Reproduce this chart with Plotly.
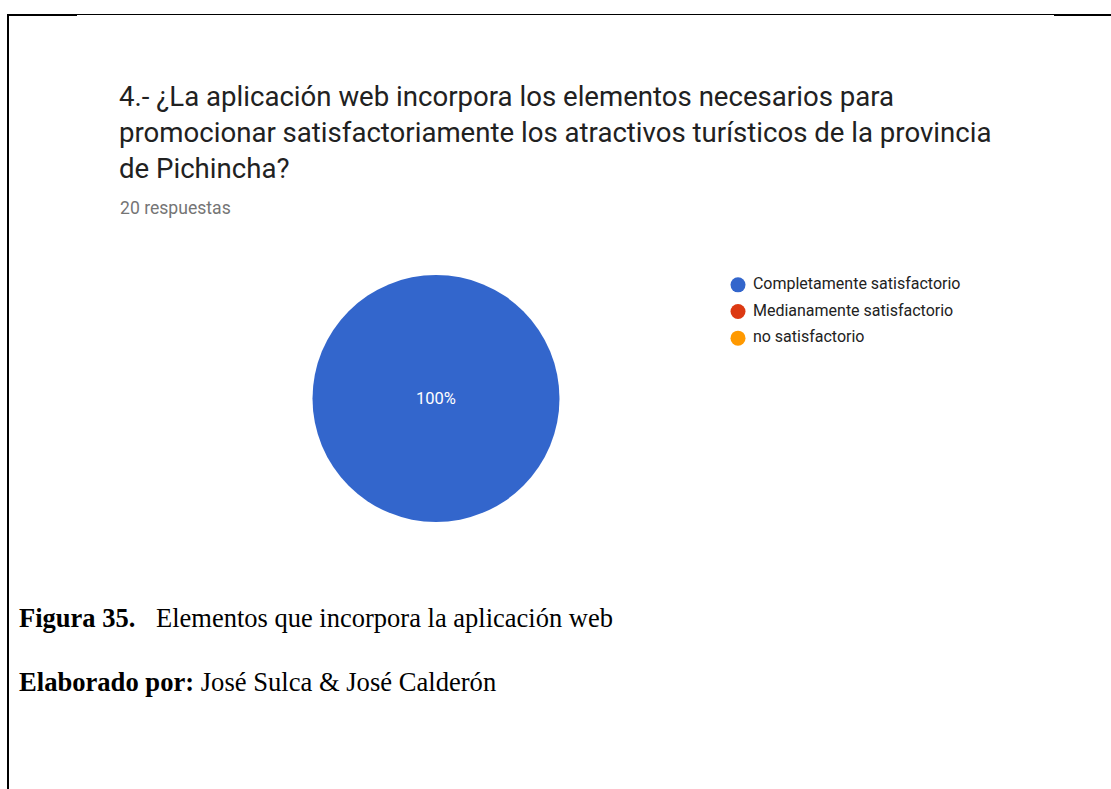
import plotly.graph_objects as go

W, H = 1111, 789

# Survey answers for question 4
categories = ["Completamente satisfactorio", "Medianamente satisfactorio", "no satisfactorio"]
responses = [20, 0, 0]
colors = ["#3366cc", "#dc3912", "#ff9900"]

title_lines = [
    "4.- ¿La aplicación web incorpora los elementos necesarios para",
    "promocionar satisfactoriamente los atractivos turísticos de la provincia",
    "de Pichincha?",
]
subtitle = f"{sum(responses)} respuestas"
caption_bold = "Figura 35."
caption_text = "Elementos que incorpora la aplicación web"
credit_bold = "Elaborado por:"
credit_text = "José Sulca & José Calderón"


def px_x(v):
    return v / W


def px_y(v):
    return 1 - v / H


fig = go.Figure()

total = sum(responses)
pie_text = [f"{round(100 * r / total)}%" if r else "" for r in responses]

fig.add_trace(go.Pie(
    labels=categories,
    values=responses,
    marker=dict(colors=colors, line=dict(width=0)),
    text=pie_text,
    textinfo="text",
    textposition="inside",
    insidetextfont=dict(family="Roboto", size=16.5, color="white"),
    sort=False,
    direction="clockwise",
    showlegend=False,
    domain=dict(x=[px_x(312), px_x(560)], y=[px_y(522), px_y(275)]),
    hoverinfo="label+percent",
))

# Legend drawn as circle markers plus labels on their own axes
legend_rows = list(range(len(categories)))
fig.add_trace(go.Scatter(
    x=[0] * len(categories),
    y=legend_rows,
    mode="markers",
    marker=dict(symbol="circle", size=15, color=colors),
    showlegend=False,
    hoverinfo="skip",
    cliponaxis=False,
    xaxis="x2",
    yaxis="y2",
))
fig.add_trace(go.Scatter(
    x=[0.057] * len(categories),
    y=legend_rows,
    mode="text",
    text=categories,
    textposition="middle right",
    textfont=dict(family="Roboto", size=16, color="#222222"),
    cliponaxis=False,
    showlegend=False,
    hoverinfo="skip",
    xaxis="x2",
    yaxis="y2",
))

annotations = []
for i, line in enumerate(title_lines):
    annotations.append(dict(
        text=line, x=px_x(117), y=px_y(97 + 35.5 * i),
        xref="paper", yref="paper", xanchor="left", yanchor="middle",
        showarrow=False, font=dict(family="Roboto", size=27.6, color="#212121"),
    ))
annotations.append(dict(
    text=subtitle, x=px_x(118), y=px_y(208),
    xref="paper", yref="paper", xanchor="left", yanchor="middle",
    showarrow=False, font=dict(family="Roboto", size=17.6, color="#757575"),
))
serif = "Liberation Serif"
annotations += [
    dict(text=f"<b>{caption_bold}</b>", x=px_x(17), y=px_y(618),
         xref="paper", yref="paper", xanchor="left", yanchor="middle",
         showarrow=False, font=dict(family=serif, size=26.5, color="black")),
    dict(text=caption_text, x=px_x(154), y=px_y(618),
         xref="paper", yref="paper", xanchor="left", yanchor="middle",
         showarrow=False, font=dict(family=serif, size=26.5, color="black")),
    dict(text=f"<b>{credit_bold}</b> {credit_text}", x=px_x(17), y=px_y(682),
         xref="paper", yref="paper", xanchor="left", yanchor="middle",
         showarrow=False, font=dict(family=serif, size=26.6, color="black")),
]

# Page frame lines
shapes = [
    dict(type="line", xref="paper", yref="paper", x0=px_x(8), x1=px_x(8),
         y0=px_y(14), y1=px_y(H), line=dict(color="black", width=2)),
    dict(type="line", xref="paper", yref="paper", x0=px_x(7), x1=px_x(77),
         y0=px_y(15), y1=px_y(15), line=dict(color="black", width=2)),
    dict(type="line", xref="paper", yref="paper", x0=px_x(77), x1=px_x(1054),
         y0=px_y(14.5), y1=px_y(14.5), line=dict(color="black", width=1)),
    dict(type="line", xref="paper", yref="paper", x0=px_x(1054), x1=1,
         y0=px_y(15), y1=px_y(15), line=dict(color="black", width=2)),
]

fig.update_layout(
    width=W, height=H,
    margin=dict(l=0, r=0, t=0, b=0),
    paper_bgcolor="white",
    plot_bgcolor="rgba(0,0,0,0)",
    annotations=annotations,
    shapes=shapes,
    xaxis2=dict(domain=[px_x(738), px_x(1000)], range=[0, 1], visible=False,
                fixedrange=True, anchor="y2"),
    yaxis2=dict(domain=[px_y(351.5), px_y(271.5)], range=[2.5, -0.5], visible=False,
                fixedrange=True, anchor="x2"),
)

fig.write_html("out.html")
